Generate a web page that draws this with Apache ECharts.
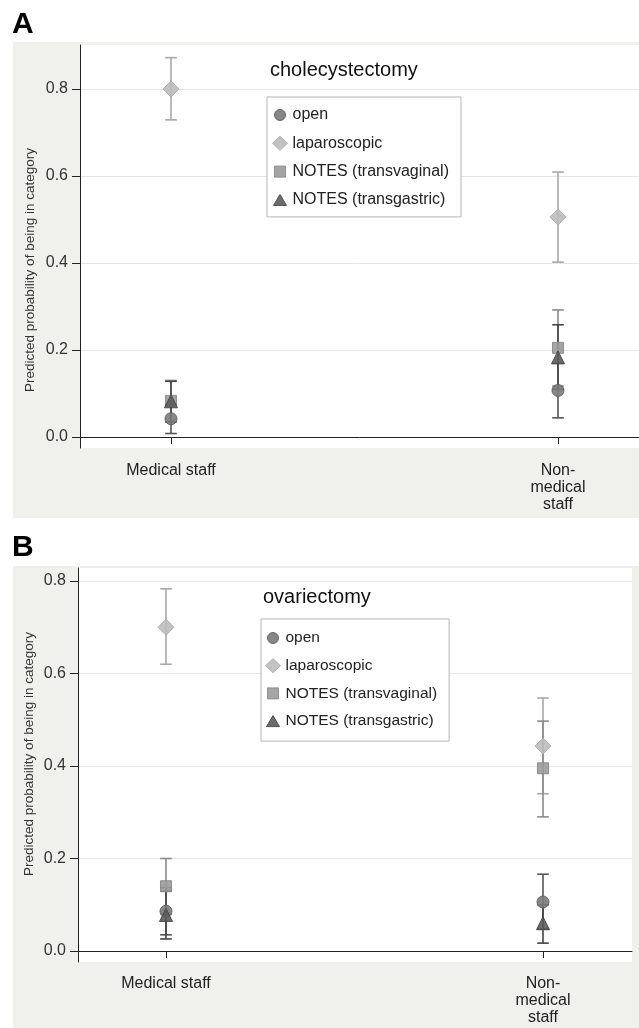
<!DOCTYPE html>
<html><head><meta charset="utf-8">
<script src="https://cdn.jsdelivr.net/npm/echarts@6/dist/echarts.min.js"></script>
<style>html,body{margin:0;padding:0;background:#fff}#c{width:639px;height:1028px}</style>
</head><body><div id="c"></div>
<script>
// ---------- data ----------
var categories = ['Medical staff', 'Non-\nmedical\nstaff'];
var procedures = ['open', 'laparoscopic', 'NOTES (transvaginal)', 'NOTES (transgastric)'];
var yTicks = [0, 0.2, 0.4, 0.6, 0.8];
var panelTitles = ['cholecystectomy', 'ovariectomy'];

// cholecystectomy (panel A): estimate, lower, upper per category
var cholEst = {
  'open': [0.042, 0.107],
  'laparoscopic': [0.800, 0.506],
  'NOTES (transvaginal)': [0.083, 0.205],
  'NOTES (transgastric)': [0.082, 0.183]
};
var cholLo = {
  'open': [0.008, 0.044],
  'laparoscopic': [0.729, 0.402],
  'NOTES (transvaginal)': [0.035, 0.117],
  'NOTES (transgastric)': [0.035, 0.110]
};
var cholHi = {
  'open': [0.075, 0.170],
  'laparoscopic': [0.872, 0.609],
  'NOTES (transvaginal)': [0.130, 0.292],
  'NOTES (transgastric)': [0.128, 0.258]
};
// ovariectomy (panel B)
var ovaEst = {
  'open': [0.086, 0.106],
  'laparoscopic': [0.700, 0.443],
  'NOTES (transvaginal)': [0.140, 0.395],
  'NOTES (transgastric)': [0.078, 0.060]
};
var ovaLo = {
  'open': [0.035, 0.048],
  'laparoscopic': [0.620, 0.340],
  'NOTES (transvaginal)': [0.080, 0.290],
  'NOTES (transgastric)': [0.026, 0.017]
};
var ovaHi = {
  'open': [0.137, 0.166],
  'laparoscopic': [0.783, 0.547],
  'NOTES (transvaginal)': [0.200, 0.497],
  'NOTES (transgastric)': [0.130, 0.100]
};

// ---------- styles ----------
var FONT = 'Liberation Sans, Arial, sans-serif';
var markerStyle = {
  'open': {symbol: 'circle', size: 12, color: '#7a7a7a', border: '#5e5e5e', bar: '#555555'},
  'laparoscopic': {symbol: 'diamond', size: 16, color: '#bdbdbd', border: '#a9a9a9', bar: '#a8a8a8'},
  'NOTES (transvaginal)': {symbol: 'rect', size: 11, color: '#9b9b9b', border: '#888888', bar: '#8a8a8a'},
  'NOTES (transgastric)': {symbol: 'triangle', size: 13, color: '#5c5c5c', border: '#444444', bar: '#444444'}
};
// legend icons drawn inside a 15x14 box (extra move-to points fix the box)
var legendIcons = {
  'open': 'path://M0,0M15,14M13,7A5.5,5.5,0,1,1,2,7A5.5,5.5,0,1,1,13,7z',
  'laparoscopic': 'path://M0,0M15,14M7.5,0L15,7L7.5,14L0,7z',
  'NOTES (transvaginal)': 'path://M0,0M15,14M2,1.5h11v11h-11z',
  'NOTES (transgastric)': 'path://M0,0M15,14M7.5,1.5L14,12.5H1z'
};

var xPos = categories.map(function (c, i) { return i + 1; });

var panels = [
  {est: cholEst, lo: cholLo, hi: cholHi,
   grid: {left: 80, top: 45, width: 559, height: 403},
   xMin: 0.7649, xMax: 2.2093, yMin: -0.0253, yMax: 0.9011,
   legend: {left: 267, top: 97, pad: [10, 12, 9, 5], gap: 12.3, font: 16},
   title: {left: 270, top: 60},
   yName: {x: 30, y: 270}},
  {est: ovaEst, lo: ovaLo, hi: ovaHi,
   grid: {left: 78, top: 568, width: 554, height: 394},
   xMin: 0.7666, xMax: 2.2361, yMin: -0.0238, yMax: 0.8281,
   legend: {left: 261, top: 619, pad: [11, 12, 12, 4], gap: 11.7, font: 15.5},
   title: {left: 263, top: 587},
   yName: {x: 29, y: 754}}
];

var grids = [], xAxes = [], yAxes = [], series = [], legends = [], titles = [];
panels.forEach(function (p, pi) {
  grids.push(Object.assign({show: true, backgroundColor: '#ffffff', borderWidth: 0, containLabel: false}, p.grid));
  xAxes.push({
    type: 'value', gridIndex: pi, min: p.xMin, max: p.xMax,
    axisLine: {show: true, lineStyle: {color: '#222', width: 1}},
    axisTick: {show: true, length: 7, lineStyle: {color: '#222'}, customValues: xPos},
    axisLabel: {show: true, customValues: xPos, margin: pi === 0 ? 14 : 13,
      fontFamily: FONT, fontSize: 16, color: '#222', lineHeight: 17,
      formatter: function (v) { return categories[Math.round(v) - 1] || ''; }},
    splitLine: {show: false}
  });
  yAxes.push({
    type: 'value', gridIndex: pi, min: p.yMin, max: p.yMax,
    axisLine: {show: true, lineStyle: {color: '#222', width: 1}},
    axisTick: {show: true, length: 8, lineStyle: {color: '#222'}, customValues: yTicks},
    axisLabel: {show: true, customValues: yTicks, margin: 12, fontFamily: FONT, fontSize: 16, color: '#333',
      formatter: function (v) { return v.toFixed(1); }},
    splitLine: {show: true, lineStyle: {color: '#e6e6e6', width: 1}}
  });
  procedures.forEach(function (name) {
    var st = markerStyle[name];
    series.push({
      type: 'custom', name: 'ci-' + name + '-' + pi, xAxisIndex: pi, yAxisIndex: pi,
      silent: true, z: 2,
      encode: {x: 0, y: [1, 2]},
      data: xPos.map(function (x, i) { return [x, p.lo[name][i], p.hi[name][i]]; }),
      renderItem: function (params, api) {
        var x = api.value(0);
        var a = api.coord([x, api.value(1)]);
        var b = api.coord([x, api.value(2)]);
        var hw = 5.8;
        var style = {stroke: st.bar, lineWidth: 1.6, fill: null};
        return {type: 'group', children: [
          {type: 'line', shape: {x1: a[0], y1: a[1], x2: b[0], y2: b[1]}, style: style},
          {type: 'line', shape: {x1: a[0] - hw, y1: a[1], x2: a[0] + hw, y2: a[1]}, style: style},
          {type: 'line', shape: {x1: b[0] - hw, y1: b[1], x2: b[0] + hw, y2: b[1]}, style: style}
        ]};
      }
    });
  });
  procedures.forEach(function (name) {
    var st = markerStyle[name];
    series.push({
      type: 'scatter', name: name, xAxisIndex: pi, yAxisIndex: pi, z: 3,
      symbol: st.symbol, symbolSize: st.size,
      itemStyle: {color: st.color, borderColor: st.border, borderWidth: 1, opacity: 0.9},
      emphasis: {disabled: true},
      data: xPos.map(function (x, i) { return [x, p.est[name][i]]; })
    });
  });
  legends.push({
    left: p.legend.left, top: p.legend.top, orient: 'vertical',
    backgroundColor: '#ffffff', borderColor: '#b5b5b5', borderWidth: 1,
    padding: p.legend.pad, itemGap: p.legend.gap, itemWidth: 15, itemHeight: 14,
    symbolKeepAspect: true,
    selectedMode: false,
    textStyle: {fontFamily: FONT, fontSize: p.legend.font, color: '#222', lineHeight: 16},
    data: procedures.map(function (name) {
      return {name: name, icon: legendIcons[name],
        itemStyle: {color: markerStyle[name].color, borderColor: markerStyle[name].border, borderWidth: 1}};
    })
  });
  titles.push({
    text: panelTitles[pi], left: p.title.left, top: p.title.top, padding: 0,
    textStyle: {fontFamily: FONT, fontSize: 20, fontWeight: 'normal', color: '#111'}
  });
});

var graphics = [
  {type: 'rect', z: -100, shape: {x: 13, y: 42, width: 626, height: 476}, style: {fill: '#f0f0ec'}},
  {type: 'rect', z: -100, shape: {x: 13, y: 566, width: 626, height: 462}, style: {fill: '#f0f0ec'}},
  {type: 'text', left: 12, top: 10, style: {text: 'A', fontFamily: FONT, fontSize: 30, fontWeight: 'bold', fill: '#000'}},
  {type: 'text', left: 12, top: 533, style: {text: 'B', fontFamily: FONT, fontSize: 30, fontWeight: 'bold', fill: '#000'}}
];
panels.forEach(function (p) {
  graphics.push({type: 'text', x: p.yName.x, y: p.yName.y, rotation: Math.PI / 2,
    style: {text: 'Predicted probability of being in category', fontFamily: FONT, fontSize: 13.5,
      fill: '#333', textAlign: 'center', textVerticalAlign: 'middle'}});
});

var chart = echarts.init(document.getElementById('c'), null, {renderer: 'canvas'});
chart.setOption({
  animation: false,
  backgroundColor: '#ffffff',
  title: titles,
  legend: legends,
  grid: grids,
  xAxis: xAxes,
  yAxis: yAxes,
  graphic: graphics,
  series: series
});
</script></body></html>
